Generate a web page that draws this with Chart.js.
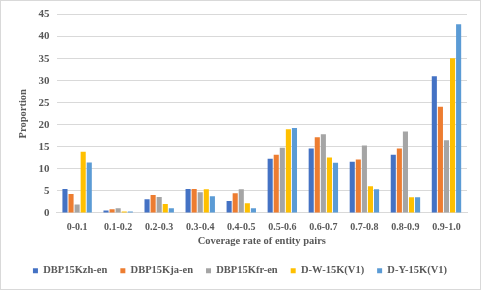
<!DOCTYPE html>
<html><head><meta charset="utf-8">
<script src="https://cdn.jsdelivr.net/npm/chart.js@4/dist/chart.umd.min.js"></script>
<style>
html,body{margin:0;padding:0;background:#fff;}
#wrap{position:absolute;left:0;top:0;width:479px;height:288px;border:1px solid #d9d9d9;}
</style></head><body>
<div id="wrap"><canvas id="c" width="479" height="288"></canvas></div>
<script>
const categories = ["0-0.1","0.1-0.2","0.2-0.3","0.3-0.4","0.4-0.5","0.5-0.6","0.6-0.7","0.7-0.8","0.8-0.9","0.9-1.0"];
const seriesNames = ["DBP15Kzh-en","DBP15Kja-en","DBP15Kfr-en","D-W-15K(V1)","D-Y-15K(V1)"];
const zhEn = [5.45, 0.53, 3.07, 5.4, 2.68, 12.3, 14.6, 11.6, 13.2, 31.0];
const jaEn = [4.3, 0.83, 4.06, 5.4, 4.45, 13.2, 17.15, 12.1, 14.6, 24.1];
const frEn = [1.9, 1.06, 3.6, 4.7, 5.38, 14.8, 17.85, 15.3, 18.5, 16.5];
const dw15k = [13.9, 0.3, 2.0, 5.38, 2.2, 19.0, 12.55, 6.07, 3.53, 35.1];
const dy15k = [11.45, 0.3, 1.06, 3.76, 1.06, 19.25, 11.4, 5.38, 3.53, 42.8];
const yTicks = [0,5,10,15,20,25,30,35,40,45];
const colors = ["#4472C4","#ED7D31","#A5A5A5","#FFC000","#5B9BD5"];
const values = [zhEn, jaEn, frEn, dw15k, dy15k];

const fam = "'Liberation Serif','Times New Roman',serif";
const fY = {family:fam, size:11, weight:'bold'};
const fX = {family:fam, size:10, weight:'bold'};
const fT = {family:fam, size:10.5, weight:'bold'};
new Chart(document.getElementById('c'), {
  type:'bar',
  data:{labels:categories, datasets: seriesNames.map((n,i)=>({label:n, data:values[i], backgroundColor:colors[i], categoryPercentage:0.74, barPercentage:0.84}))},
  options:{
    responsive:false, animation:false,
    layout:{padding:{left:12,right:13,top:10,bottom:3}},
    plugins:{
      legend:{position:'bottom', labels:{font:fT, color:'#595959', boxWidth:5, boxHeight:5, padding:13}},
      tooltip:{enabled:false}
    },
    scales:{
      x:{grid:{display:false}, border:{color:'#d9d9d9'}, ticks:{font:fX, color:'#595959', padding:1},
         title:{display:true, text:'Coverage rate of entity pairs', font:fT, color:'#595959', padding:{top:0,bottom:5}}},
      y:{min:0, max:45, afterBuildTicks:(a)=>{a.ticks=yTicks.map(v=>({value:v}));},
         grid:{color:'#d9d9d9', drawTicks:false}, border:{display:false},
         ticks:{font:fY, color:'#595959', padding:7, autoSkip:false, stepSize:5},
         title:{display:true, text:'Proportion', font:fT, color:'#595959', padding:{bottom:2}}}
    }
  }
});
</script></body></html>
